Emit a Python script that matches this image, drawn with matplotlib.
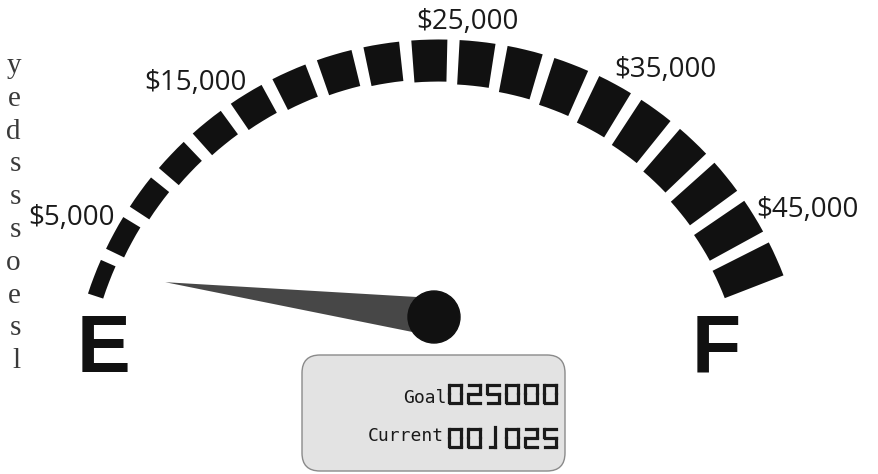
import numpy as np
import matplotlib
matplotlib.use('Agg')
import matplotlib.pyplot as plt
from matplotlib.patches import Wedge, Polygon, Circle, FancyBboxPatch

W, H = 879, 474

# gauge data
SCALE_MAX = 47500
STEP = 2500
TICK_VALUES = [5000, 15000, 25000, 35000, 45000]
GOAL = 25000
CURRENT = 1025
END_LABELS = ['E', 'F']
# ends of the cropped paragraph at the left edge
MARGIN_LETTERS = ['y', 'e', 'd', 's', 's', 's', 'o', 'e', 's', 'l']

# layout (pixel coords, y from top)
ARC_CENTER = (439, 409)
R_OUT = 369.5
THICK_MIN, THICK_MAX = 16, 63
ANG_START, ANG_END = 162.75, 20.25
GAP_DEG = 1.9
PIVOT = (434, 317)
LABEL_POS = [(72, 218), (195, 83), (467, 22), (665, 70), (807, 210)]


def py(y):
    return H - y


def value_angle(v):
    return ANG_START - v / SCALE_MAX * (ANG_START - ANG_END)


SEG_MAP = {
    '0': 'abcdef', '1': 'bc', '2': 'abged', '3': 'abgcd', '4': 'fgbc',
    '5': 'afgcd', '6': 'afgedc', '7': 'abc', '8': 'abcdefg', '9': 'abcdfg',
}


def draw_digits(ax, text, x_right, y_top, w=15, h=21, pitch=19, lw=2.3, color='#1a1a1a'):
    x0 = x_right - (len(text) - 1) * pitch - w
    s = 1.5
    g = 0.5
    for k, ch in enumerate(text):
        xl = x0 + k * pitch + s
        xr = x0 + k * pitch + w - s
        yt, yb = y_top + s, y_top + h - s
        ym = (yt + yb) / 2
        segs = {
            'a': [(xl + g, yt), (xr - g, yt)],
            'b': [(xr, yt + g), (xr, ym - g)],
            'c': [(xr, ym + g), (xr, yb - g)],
            'd': [(xl + g, yb), (xr - g, yb)],
            'e': [(xl, ym + g), (xl, yb - g)],
            'f': [(xl, yt + g), (xl, ym - g)],
            'g': [(xl + g, ym), (xr - g, ym)],
        }
        if ch == '1':
            xv = xl + (xr - xl) * 0.62
            lines = [[(xv, yt - s), (xv, yb)], [(xl + 2.5, yb), (xv, yb)]]
        else:
            lines = [segs[c] for c in SEG_MAP[ch]]
        for (xa, ya), (xb, yb2) in lines:
            ax.plot([xa, xb], [py(ya), py(yb2)], color=color, lw=lw,
                    solid_capstyle='projecting', zorder=5)


fig = plt.figure(figsize=(W / 100, H / 100), dpi=100)
ax = fig.add_axes([0, 0, 1, 1])
ax.set_xlim(0, W)
ax.set_ylim(0, H)
ax.axis('off')

cx, cy = ARC_CENTER[0], py(ARC_CENTER[1])
n_seg = SCALE_MAX // STEP
for i in range(n_seg):
    lo = value_angle((i + 1) * STEP)
    hi = value_angle(i * STEP)
    thick = THICK_MIN + (THICK_MAX - THICK_MIN) * (i / (n_seg - 1)) ** 0.85
    ax.add_patch(Wedge((cx, cy), R_OUT, lo + GAP_DEG / 2, hi - GAP_DEG / 2,
                       width=thick, color='#111111', lw=0))

for v, (lx, ly) in zip(TICK_VALUES, LABEL_POS):
    ax.text(lx, py(ly), '${:,}'.format(v), ha='center', va='center',
            fontsize=20, family='Open Sans', color='#1a1a1a')

ax.text(104, py(351), END_LABELS[0], ha='center', va='center', fontsize=58,
        family='Liberation Sans', weight='bold', color='#111111')
ax.text(716, py(351), END_LABELS[1], ha='center', va='center', fontsize=58,
        family='Liberation Sans', weight='bold', color='#111111')

# needle
px, pyv = PIVOT[0], py(PIVOT[1])
ang = np.radians(180 - 180 * CURRENT / GOAL)
length, half_w = 271, 19
tip = (px + length * np.cos(ang), pyv + length * np.sin(ang))
nx, ny = -np.sin(ang), np.cos(ang)
ax.add_patch(Polygon([tip, (px + half_w * nx, pyv + half_w * ny),
                      (px - half_w * nx, pyv - half_w * ny)],
                     closed=True, color='#474747', lw=0, zorder=3))
ax.add_patch(Circle((px, pyv), 26, color='#111111', zorder=4))

# readout box
ax.add_patch(FancyBboxPatch((302, py(471)), 263, 116,
                            boxstyle='round,pad=0,rounding_size=18',
                            facecolor='#e3e3e3', edgecolor='#8a8a8a', lw=1, zorder=2))
ax.text(447, py(403), 'Goal', ha='right', va='baseline', fontsize=13,
        family='DejaVu Sans Mono', color='#1a1a1a', zorder=5)
ax.text(444, py(441), 'Current', ha='right', va='baseline', fontsize=13,
        family='DejaVu Sans Mono', color='#1a1a1a', zorder=5)
draw_digits(ax, '{:06d}'.format(GOAL), 558, 383)
draw_digits(ax, '{:06d}'.format(CURRENT), 558, 427)

for k, ch in enumerate(MARGIN_LETTERS):
    ax.text(21, py(73 + 32.8 * k), ch, ha='right', va='baseline', fontsize=21,
            family='Liberation Serif', color='#3a3a3a')

fig.savefig('out.png', dpi=100)
